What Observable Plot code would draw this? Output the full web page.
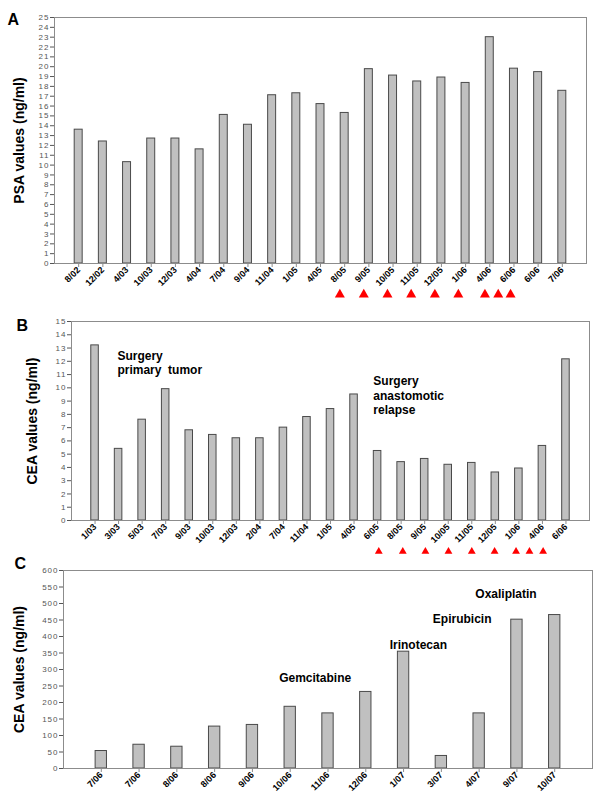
<!DOCTYPE html>
<html>
<head>
<meta charset="utf-8">
<script src="https://cdn.jsdelivr.net/npm/d3@7"></script>
<script src="https://cdn.jsdelivr.net/npm/@observablehq/plot@0.6"></script>
<style>
  body { margin: 0; background: #fff; }
  #chart { width: 600px; }
  #chart svg { display: block; }
  #chart [aria-label="y-axis tick label"] text { letter-spacing: 1px; }
</style>
</head>
<body>
<div id="chart"></div>
<script>
// ---------- Panel A: PSA ----------
const psaDates = ["8/02","12/02","4/03","10/03","12/03","4/04","7/04","9/04","11/04","1/05","4/05",
  "8/05","9/05","10/05","11/05","12/05","1/06","4/06","6/06","6/06","7/06"];
const psaValues = [13.6,12.4,10.3,12.7,12.7,11.6,15.1,14.1,17.1,17.3,16.2,
  15.3,19.75,19.1,18.5,18.9,18.35,23.0,19.8,19.45,17.55];
const psaTicks = d3.range(0, 26, 1);
const psaTreatments = [11.8,12.79,13.77,14.75,15.73,16.7,17.8,18.35,18.86];

// ---------- Panel B: CEA ----------
const ceaBDates = ["1/03","3/03","5/03","7/03","9/03","10/03","12/03","2/04","7/04","11/04","1/05",
  "4/05","6/05","8/05","9/05","10/05","11/05","12/05","1/06","4/06","6/06"];
const ceaBValues = [13.2,5.4,7.6,9.9,6.8,6.45,6.2,6.2,7.0,7.8,8.4,
  9.5,5.24,4.4,4.64,4.2,4.34,3.62,3.92,5.62,12.15];
const ceaBTicks = d3.range(0, 16, 1);
const ceaBTreatments = [13.05,14.07,15.03,16.01,17.0,17.97,18.88,19.45,20.03];
const ceaBNotes = ["Surgery\nprimary  tumor", "Surgery\nanastomotic\nrelapse"];
const ceaBNoteX = [1.95, 12.82];
const ceaBNoteY = [11.9, 9.46];

// ---------- Panel C: CEA ----------
const ceaCDates = ["7/06","7/06","8/06","8/06","9/06","10/06","11/06","12/06","1/07","3/07","4/07","9/07","10/07"];
const ceaCValues = [53,72,66,127,132,187,167,232,354,38,167,451,465];
const ceaCTicks = d3.range(0, 601, 50);
const ceaCNotes = ["Gemcitabine","Irinotecan","Epirubicin","Oxaliplatin"];
const ceaCNoteX = [6.66, 9.39, 10.55, 11.71];
const ceaCNoteY = [277, 376, 454, 531];

const FONT = "'Liberation Sans', Arial, Helvetica, sans-serif";

function panel(cfg) {
  const n = cfg.labels.length;
  const rows = cfg.values.map((v, i) => ({i: i + 1, v}));
  const hw = cfg.barHalf;
  const marks = [
    Plot.rectY(rows, {x1: d => d.i - hw, x2: d => d.i + hw, y1: 0, y2: "v",
      fill: "#c0c0c0", stroke: "#4a4a4a", strokeWidth: 1}),
    Plot.frame({stroke: "#8c8c8c"}),
    Plot.axisY({ticks: cfg.yTicks, tickSize: 4, tickPadding: 1, fontSize: 8,
      color: "#555", label: null}),
    Plot.axisX({ticks: d3.range(1, n + 1), tickFormat: i => cfg.labels[i - 1],
      tickRotate: -45, tickSize: 4, tickPadding: 1, fontSize: 9, fontWeight: "bold",
      color: "#000", stroke: "#8c8c8c", label: null}),
    Plot.text([cfg.yLabel], {frameAnchor: "left", rotate: -90, dx: cfg.yLabelDx,
      textAnchor: "middle", lineAnchor: "middle",
      fontSize: 14, fontWeight: "bold", fill: "#000"}),
    Plot.text([cfg.letter], {frameAnchor: "top-left", textAnchor: "start", lineAnchor: "bottom",
      dx: cfg.letterDx, dy: cfg.letterDy, fontSize: 16, fontWeight: "bold", fill: "#000"})
  ];
  if (cfg.treat) {
    marks.push(Plot.dot(cfg.treat, {x: d => d, frameAnchor: "bottom", dy: cfg.triDy,
      symbol: "triangle", r: cfg.triR, fill: "#ff0000", stroke: "none"}));
  }
  if (cfg.notes) {
    marks.push(Plot.text(cfg.notes, {x: (d, i) => cfg.noteX[i], y: (d, i) => cfg.noteY[i],
      text: d => d, textAnchor: cfg.noteAnchor, lineAnchor: "middle", lineHeight: 1.2,
      fontSize: 12, fontWeight: "bold", fill: "#000"}));
  }
  return Plot.plot({
    width: 600,
    height: cfg.height,
    marginLeft: cfg.ml, marginRight: cfg.mr, marginTop: cfg.mt, marginBottom: cfg.mb,
    style: {fontFamily: FONT, background: "#fff", overflow: "visible"},
    x: {type: "linear", domain: [0, n + 1], axis: null},
    y: {domain: [0, cfg.yMax], axis: null},
    marks
  });
}

const chart = document.getElementById("chart");
chart.append(panel({
  labels: psaDates, values: psaValues, yTicks: psaTicks, yMax: 25,
  yLabel: "PSA values (ng/ml)", letter: "A", treat: psaTreatments,
  height: 300, ml: 54, mr: 14, mt: 17, mb: 37, barHalf: 0.165,
  yLabelDx: -35, letterDx: -47, letterDy: 7, triDy: 31, triR: 3.7
}));
chart.append(panel({
  labels: ceaBDates, values: ceaBValues, yTicks: ceaBTicks, yMax: 15,
  yLabel: "CEA values (ng/ml)", letter: "B", treat: ceaBTreatments,
  notes: ceaBNotes, noteX: ceaBNoteX, noteY: ceaBNoteY, noteAnchor: "start",
  height: 256, ml: 71, mr: 11, mt: 21, mb: 36, barHalf: 0.16,
  yLabelDx: -39, letterDx: -55, letterDy: 9, triDy: 31, triR: 2.9
}));
chart.append(panel({
  labels: ceaCDates, values: ceaCValues, yTicks: ceaCTicks, yMax: 600,
  yLabel: "CEA values (ng/ml)", letter: "C",
  notes: ceaCNotes, noteX: ceaCNoteX, noteY: ceaCNoteY, noteAnchor: "middle",
  height: 248, ml: 63, mr: 8, mt: 14, mb: 36, barHalf: 0.15,
  yLabelDx: -44, letterDx: -49, letterDy: -2, triDy: 0, triR: 0
}));
</script>
</body>
</html>
